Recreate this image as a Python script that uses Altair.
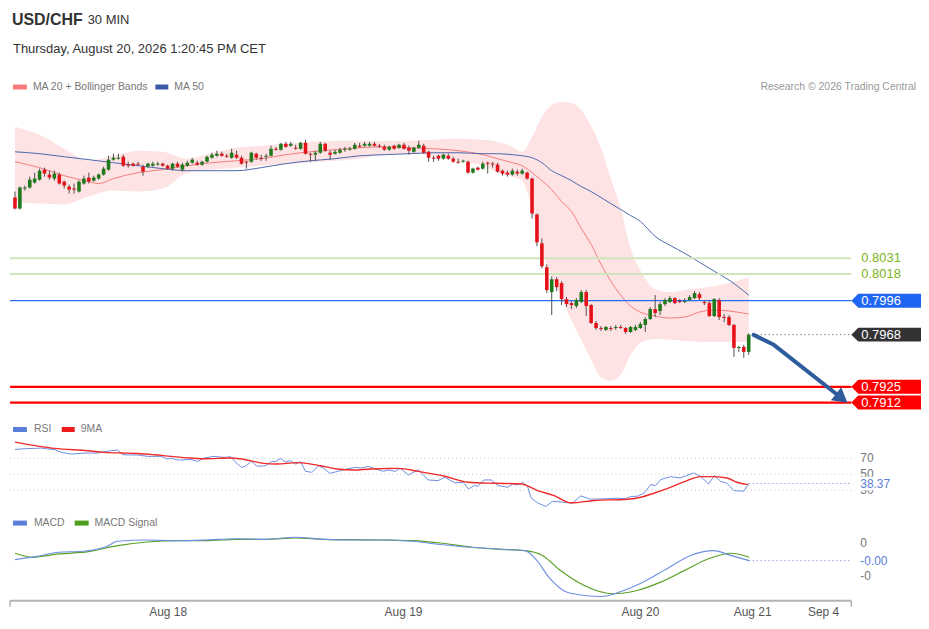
import altair as alt
import pandas as pd

# ---------------- text ----------------
title_symbol = "USD/CHF"
title_period = "30 MIN"
title_date = "Thursday, August 20, 2026 1:20:45 PM CET"
credit_text = "Research \u00a9 2026 Trading Central"
price_legend = ["MA 20 + Bollinger Bands", "MA 50"]
rsi_legend = ["RSI", "9MA"]
macd_legend = ["MACD", "MACD Signal"]

# ---------------- candles (30 min) ----------------
candle_open = [
    0.80811, 0.80720, 0.80885, 0.80893, 0.80934, 0.80958, 0.81041, 0.81000, 0.80967, 0.81000,
    0.80942, 0.80901, 0.80885, 0.80860, 0.80926, 0.80975, 0.80950, 0.80967, 0.81000, 0.81041,
    0.81123, 0.81131, 0.81147, 0.81082, 0.81090, 0.81090, 0.81065, 0.81065, 0.81073, 0.81082,
    0.81090, 0.81073, 0.81049, 0.81090, 0.81041, 0.81073, 0.81098, 0.81098, 0.81082, 0.81106,
    0.81139, 0.81155, 0.81172, 0.81155, 0.81139, 0.81164, 0.81139, 0.81106, 0.81106, 0.81172,
    0.81139, 0.81147, 0.81155, 0.81213, 0.81205, 0.81254, 0.81238, 0.81221, 0.81213, 0.81262,
    0.81172, 0.81164, 0.81180, 0.81254, 0.81180, 0.81172, 0.81180, 0.81205, 0.81205, 0.81213,
    0.81238, 0.81238, 0.81238, 0.81254, 0.81238, 0.81229, 0.81205, 0.81238, 0.81221, 0.81246,
    0.81221, 0.81188, 0.81221, 0.81238, 0.81188, 0.81139, 0.81155, 0.81131, 0.81155, 0.81131,
    0.81106, 0.81106, 0.81106, 0.81016, 0.81057, 0.81049, 0.81098, 0.81090, 0.81082, 0.81032,
    0.81016, 0.81000, 0.81024, 0.81008, 0.81016, 0.80967, 0.80671, 0.80433, 0.80236, 0.80031,
    0.80137, 0.80105, 0.79973, 0.79940, 0.79916, 0.79949, 0.80031, 0.79924, 0.79776, 0.79735,
    0.79719, 0.79735, 0.79735, 0.79743, 0.79735, 0.79702, 0.79719, 0.79735, 0.79760, 0.79809,
    0.79891, 0.79875, 0.79932, 0.79949, 0.79981, 0.79957, 0.79949, 0.79965, 0.79981, 0.80014,
    0.79949, 0.79940, 0.79834, 0.79965, 0.79825, 0.79825, 0.79760, 0.79571, 0.79579, 0.79538,
]
candle_high = [
    0.80860, 0.80901, 0.80909, 0.80983, 0.81016, 0.81049, 0.81057, 0.81032, 0.81032, 0.81016,
    0.80950, 0.80917, 0.80926, 0.80950, 0.80991, 0.81016, 0.80991, 0.81008, 0.81065, 0.81155,
    0.81172, 0.81172, 0.81164, 0.81106, 0.81098, 0.81106, 0.81082, 0.81098, 0.81106, 0.81106,
    0.81098, 0.81082, 0.81098, 0.81106, 0.81098, 0.81114, 0.81139, 0.81114, 0.81114, 0.81155,
    0.81180, 0.81197, 0.81188, 0.81172, 0.81213, 0.81197, 0.81155, 0.81114, 0.81188, 0.81180,
    0.81164, 0.81172, 0.81238, 0.81229, 0.81262, 0.81270, 0.81270, 0.81246, 0.81270, 0.81287,
    0.81180, 0.81197, 0.81270, 0.81262, 0.81197, 0.81205, 0.81221, 0.81229, 0.81229, 0.81262,
    0.81262, 0.81270, 0.81270, 0.81270, 0.81254, 0.81246, 0.81238, 0.81246, 0.81254, 0.81262,
    0.81238, 0.81229, 0.81279, 0.81254, 0.81197, 0.81155, 0.81164, 0.81172, 0.81172, 0.81147,
    0.81131, 0.81123, 0.81114, 0.81057, 0.81065, 0.81106, 0.81106, 0.81106, 0.81098, 0.81041,
    0.81032, 0.81049, 0.81041, 0.81049, 0.81024, 0.80975, 0.80679, 0.80474, 0.80261, 0.80162,
    0.80154, 0.80121, 0.79990, 0.79957, 0.79981, 0.80047, 0.80047, 0.79932, 0.79793, 0.79751,
    0.79751, 0.79751, 0.79760, 0.79760, 0.79743, 0.79751, 0.79760, 0.79784, 0.79825, 0.79908,
    0.80006, 0.79949, 0.79981, 0.79998, 0.79990, 0.79973, 0.79981, 0.80006, 0.80039, 0.80031,
    0.79965, 0.79957, 0.79981, 0.79981, 0.79850, 0.79842, 0.79768, 0.79587, 0.79596, 0.79690,
]
candle_low = [
    0.80712, 0.80712, 0.80868, 0.80885, 0.80926, 0.80950, 0.80983, 0.80958, 0.80950, 0.80917,
    0.80885, 0.80843, 0.80843, 0.80852, 0.80917, 0.80926, 0.80942, 0.80958, 0.80991, 0.81032,
    0.81114, 0.81123, 0.81065, 0.81057, 0.81065, 0.81073, 0.80991, 0.81057, 0.81065, 0.81073,
    0.81065, 0.81041, 0.81032, 0.81057, 0.81024, 0.81065, 0.81090, 0.81073, 0.81073, 0.81098,
    0.81131, 0.81147, 0.81147, 0.81139, 0.81131, 0.81131, 0.81082, 0.81049, 0.81098, 0.81123,
    0.81114, 0.81114, 0.81147, 0.81197, 0.81197, 0.81221, 0.81229, 0.81205, 0.81205, 0.81164,
    0.81106, 0.81114, 0.81172, 0.81188, 0.81123, 0.81164, 0.81172, 0.81188, 0.81197, 0.81205,
    0.81221, 0.81229, 0.81229, 0.81229, 0.81221, 0.81197, 0.81197, 0.81205, 0.81213, 0.81205,
    0.81164, 0.81180, 0.81213, 0.81172, 0.81106, 0.81106, 0.81114, 0.81123, 0.81123, 0.81098,
    0.81090, 0.81098, 0.81008, 0.81008, 0.81032, 0.81041, 0.81008, 0.81057, 0.81016, 0.80991,
    0.80983, 0.80991, 0.80991, 0.81000, 0.80958, 0.80638, 0.80408, 0.80228, 0.80022, 0.79842,
    0.80039, 0.79924, 0.79908, 0.79891, 0.79899, 0.79940, 0.79834, 0.79768, 0.79719, 0.79710,
    0.79710, 0.79710, 0.79719, 0.79727, 0.79686, 0.79694, 0.79710, 0.79727, 0.79702, 0.79801,
    0.79825, 0.79842, 0.79916, 0.79940, 0.79932, 0.79940, 0.79940, 0.79957, 0.79973, 0.79965,
    0.79924, 0.79825, 0.79825, 0.79801, 0.79784, 0.79751, 0.79497, 0.79538, 0.79489, 0.79513,
]
candle_close = [
    0.80720, 0.80893, 0.80893, 0.80958, 0.80967, 0.81032, 0.81008, 0.80975, 0.81008, 0.80926,
    0.80909, 0.80876, 0.80876, 0.80942, 0.80967, 0.80942, 0.80975, 0.81000, 0.81049, 0.81123,
    0.81139, 0.81139, 0.81073, 0.81073, 0.81073, 0.81082, 0.81024, 0.81090, 0.81090, 0.81090,
    0.81073, 0.81049, 0.81090, 0.81065, 0.81082, 0.81098, 0.81123, 0.81082, 0.81106, 0.81147,
    0.81164, 0.81172, 0.81155, 0.81147, 0.81180, 0.81139, 0.81090, 0.81098, 0.81180, 0.81139,
    0.81131, 0.81155, 0.81213, 0.81205, 0.81254, 0.81229, 0.81254, 0.81213, 0.81262, 0.81172,
    0.81164, 0.81180, 0.81254, 0.81197, 0.81164, 0.81188, 0.81205, 0.81213, 0.81213, 0.81246,
    0.81229, 0.81254, 0.81254, 0.81238, 0.81229, 0.81205, 0.81229, 0.81213, 0.81246, 0.81213,
    0.81197, 0.81221, 0.81246, 0.81180, 0.81139, 0.81131, 0.81131, 0.81164, 0.81131, 0.81106,
    0.81098, 0.81114, 0.81016, 0.81049, 0.81041, 0.81090, 0.81090, 0.81082, 0.81024, 0.81008,
    0.81000, 0.81032, 0.81008, 0.81032, 0.80967, 0.80679, 0.80441, 0.80244, 0.80047, 0.80137,
    0.80072, 0.79973, 0.79932, 0.79924, 0.79965, 0.80031, 0.79916, 0.79776, 0.79735, 0.79727,
    0.79743, 0.79727, 0.79743, 0.79735, 0.79702, 0.79743, 0.79743, 0.79768, 0.79809, 0.79891,
    0.79858, 0.79932, 0.79965, 0.79981, 0.79940, 0.79949, 0.79957, 0.79990, 0.80022, 0.79981,
    0.79940, 0.79834, 0.79973, 0.79825, 0.79817, 0.79760, 0.79571, 0.79579, 0.79538, 0.79680,
]

# ---------------- Bollinger bands / moving averages (read at sample candles) ----------------
band_idx = [0, 5, 10, 15, 20, 25, 30, 35, 40, 45, 50, 55, 60, 65, 70, 75, 80, 85, 90, 95,
            98, 101, 103, 105, 107, 109, 111, 113, 115, 117, 119, 121, 123, 125, 127, 130,
            133, 136, 139, 142, 145, 149]
band_upper = [0.81394, 0.81328, 0.81213, 0.81114, 0.81155, 0.81197, 0.81188, 0.81131, 0.81180,
              0.81221, 0.81238, 0.81254, 0.81270, 0.81279, 0.81279, 0.81279, 0.81279, 0.81287,
              0.81295, 0.81287, 0.81270, 0.81229, 0.81188, 0.81311, 0.81476, 0.81574, 0.81599,
              0.81591, 0.81533, 0.81402, 0.81221, 0.80967, 0.80720, 0.80392, 0.80211, 0.80055,
              0.80031, 0.80047, 0.80064, 0.80080, 0.80105, 0.80154]
band_lower = [0.80770, 0.80761, 0.80753, 0.80819, 0.80868, 0.80860, 0.80885, 0.81016, 0.81041,
              0.81057, 0.81073, 0.81090, 0.81098, 0.81114, 0.81131, 0.81164, 0.81172, 0.81155,
              0.81114, 0.81073, 0.81016, 0.80983, 0.80950, 0.80712, 0.80376, 0.80170, 0.79981,
              0.79801, 0.79637, 0.79472, 0.79325, 0.79300, 0.79349, 0.79513, 0.79612, 0.79645,
              0.79637, 0.79628, 0.79620, 0.79620, 0.79620, 0.79620]
ma50_val = [0.81188, 0.81172, 0.81147, 0.81123, 0.81098, 0.81073, 0.81049, 0.81032, 0.81032,
            0.81032, 0.81057, 0.81090, 0.81114, 0.81131, 0.81155, 0.81164, 0.81172, 0.81180,
            0.81180, 0.81172, 0.81172, 0.81164, 0.81155, 0.81139, 0.81098, 0.81032, 0.80991,
            0.80950, 0.80901, 0.80860, 0.80811, 0.80761, 0.80712, 0.80663, 0.80614, 0.80490,
            0.80417, 0.80351, 0.80277, 0.80203, 0.80130, 0.80006]
ma20_idx = [0, 5, 10, 15, 17, 20, 25, 30, 35, 40, 45, 50, 55, 60, 65, 70, 75, 80, 85, 90, 95,
            98, 101, 103, 105, 107, 109, 111, 113, 115, 117, 119, 121, 123, 125, 127, 130,
            133, 136, 139, 142, 145, 149]
ma20_val = [0.81106, 0.81057, 0.80991, 0.80942, 0.80926, 0.80967, 0.81016, 0.81041, 0.81073,
            0.81098, 0.81114, 0.81131, 0.81164, 0.81188, 0.81205, 0.81221, 0.81229, 0.81221,
            0.81213, 0.81197, 0.81164, 0.81131, 0.81098, 0.81073, 0.81016, 0.80950, 0.80876,
            0.80778, 0.80696, 0.80556, 0.80425, 0.80261, 0.80121, 0.80006, 0.79916, 0.79866,
            0.79834, 0.79817, 0.79825, 0.79866, 0.79883, 0.79875, 0.79850]

# ---------------- key levels ----------------
levels = [0.8031, 0.8018, 0.7996, 0.7968, 0.7925, 0.7912]
level_kind = ["target", "target", "ma", "last", "support", "support"]
level_text = ["0.8031", "0.8018", "0.7996", "0.7968", "0.7925", "0.7912"]

# forecast arrow path (candle index, price)
forecast_idx = [150.0, 154.1, 167.9]
forecast_price = [0.79678, 0.79596, 0.79156]

# ---------------- RSI ----------------
rsi_idx = [0, 2, 5.4, 8.1, 9.4, 11.5, 14.2, 16.8, 19.5, 20.9, 21.9, 24.9, 27.0, 29.7, 31.0,
           31.7, 33.0, 35.7, 37.1, 38.4, 40.4, 42.5, 43.8, 44.8, 46.0, 46.8, 48.0, 49.2, 50.9,
           52.2, 52.9, 53.9, 54.9, 55.9, 57.0, 58.0, 59.0, 60.3, 61.7, 62.7, 64.0, 66.1, 67.4,
           69.1, 70.4, 71.8, 72.8, 74.8, 75.8, 77.2, 78.2, 79.9, 81.9, 83.9, 85.9, 87.3, 89.3,
           91.0, 92.1, 93.3, 94.0, 95.2, 96.7, 98.1, 100.1, 101.1, 102.1, 103.1, 104.1, 104.8,
           106.1, 107.8, 109.2, 111.2, 113.2, 114.9, 116.9, 119.6, 122.3, 124.0, 125.0, 126.4,
           127.7, 129.1, 130.1, 131.1, 133.1, 135.1, 137.8, 139.2, 140.9, 142.0, 143.3, 144.6,
           146.0, 148.0, 149.0]
rsi_val = [81.2, 82.1, 82.9, 80.8, 77.5, 75.4, 76.7, 76.7, 79.6, 80.4, 74.6, 74.2, 72.5, 72.5,
           69.2, 70.4, 67.9, 68.7, 66.2, 70.4, 72.5, 71.2, 72.1, 65.0, 58.7, 60.0, 66.2, 60.0,
           60.8, 66.2, 65.8, 70.0, 65.4, 67.1, 62.9, 65.8, 53.7, 52.5, 60.8, 57.5, 51.2, 54.6,
           56.7, 58.7, 57.9, 60.0, 57.5, 53.7, 55.4, 53.7, 57.5, 49.2, 55.8, 42.9, 42.1, 46.2,
           39.2, 40.0, 31.7, 35.8, 35.0, 42.9, 42.9, 35.8, 33.7, 37.9, 36.7, 40.0, 34.6, 20.4,
           14.2, 9.6, 16.2, 15.0, 13.7, 22.9, 18.7, 19.2, 20.0, 19.2, 22.1, 22.5, 26.2, 37.1,
           35.8, 43.3, 47.1, 45.4, 51.7, 47.5, 37.9, 48.3, 41.2, 38.7, 29.6, 28.7, 38.37]
rsi_ma_idx = [0, 4.7, 8.1, 14.8, 18.2, 21.6, 24.9, 28.3, 31.7, 35.7, 38.4, 43.8, 47.8, 50.5,
              53.2, 57.3, 62.0, 65.4, 68.7, 72.1, 74.8, 77.8, 81.9, 87.3, 92.0, 97.4, 102.8,
              106.1, 109.5, 112.9, 117.6, 124.3, 127.1, 129.7, 133.1, 136.5, 139.2, 141.2,
              144.6, 146.6, 148.8]
rsi_ma_val = [90.4, 85.4, 82.5, 79.6, 77.5, 76.7, 76.2, 74.6, 72.5, 70.4, 69.6, 70.4, 67.1,
              63.7, 62.9, 64.6, 60.8, 56.7, 55.4, 56.7, 57.1, 57.5, 53.7, 47.5, 40.0, 38.7,
              37.9, 29.6, 23.3, 14.2, 17.1, 18.7, 21.2, 26.2, 33.7, 42.1, 47.1, 47.1, 45.4,
              40.0, 37.0]
rsi_ticks = [70, 50, 30]
rsi_tick_text = ["70", "50", "30"]
rsi_last = 38.37
rsi_last_text = "38.37"

# ---------------- MACD ----------------
macd_idx = [0, 4.2, 8.9, 13.7, 18.5, 20.9, 26.9, 32.9, 38.9, 44.9, 50.9, 56.9, 62.8, 68.8,
            74.8, 80.8, 86.8, 92.8, 98.8, 103.6, 106.0, 108.4, 112.0, 115.6, 119.1, 122.7,
            127.5, 132.3, 137.1, 141.9, 145.5, 149.1]
macd_val = [-0.000004, 0.000051, 0.000131, 0.000149, 0.000233, 0.000331, 0.000355, 0.000342,
            0.000355, 0.000378, 0.000367, 0.000404, 0.000367, 0.000355, 0.000355, 0.000331,
            0.000269, 0.000222, 0.000185, 0.000160, -0.000022, -0.000324, -0.000596,
            -0.000658, -0.000676, -0.000596, -0.000415, -0.000173, 0.000069, 0.000160,
            0.000069, -0.000022]
signal_idx = [0, 3.6, 8.9, 14.9, 20.9, 26.9, 32.9, 38.9, 44.9, 50.9, 56.9, 62.8, 68.8, 74.8,
              80.8, 86.8, 92.8, 98.8, 103.6, 107.2, 110.8, 115.6, 121.5, 126.3, 131.1, 135.9,
              140.7, 145.5, 149.1]
signal_val = [0.000113, 0.000040, 0.000100, 0.000142, 0.000251, 0.000318, 0.000342, 0.000342,
              0.000367, 0.000367, 0.000391, 0.000367, 0.000360, 0.000355, 0.000342, 0.000295,
              0.000222, 0.000185, 0.000160, 0.000069, -0.000204, -0.000476, -0.000627,
              -0.000567, -0.000415, -0.000204, 0.000009, 0.000113, 0.000040]
macd_ticks = [0.0003, -0.0003]
macd_tick_text = ["0", "-0"]
macd_last = -0.000022
macd_last_text = "-0.00"

# ---------------- time axis ----------------
x_tick_idx = [31.1, 78.9, 127.0, 149.8, 164.2]
x_tick_text = ["Aug 18", "Aug 19", "Aug 20", "Aug 21", "Sep 4"]

# ======================================================================
FONT = "Liberation Sans"
W, H = 914, 614
XL, XR = 2, 847          # plot area edges (px)
LBL_X = 856              # right-hand label column (px)

XS = alt.Scale(domain=[-1.4153, 183.381], nice=False, zero=False, padding=0)
PS = alt.Scale(domain=[0.790, 0.816], range=[409.56, 92.88], nice=False, zero=False, padding=0)
RS = alt.Scale(domain=[0, 100], range=[507, 427], nice=False, zero=False, padding=0)
MS = alt.Scale(domain=[-0.0008, 0.0006], range=[596.5, 519.5], nice=False, zero=False, padding=0)


def X(f):
    return alt.X(f"{f}:Q", scale=XS, axis=None)


def Y(f, s):
    return alt.Y(f"{f}:Q", scale=s, axis=None)


def txt(s, x, y, size=10.5, color="#777777", align="left", weight="normal"):
    return alt.Chart(pd.DataFrame({"t": [s]})).mark_text(
        font=FONT, fontSize=size, color=color, align=align, baseline="middle",
        fontWeight=weight
    ).encode(x=alt.value(x), y=alt.value(y), text="t:N")


def swatch(x0, x1, y, color):
    return alt.Chart(pd.DataFrame({"t": [0]})).mark_rect(color=color).encode(
        x=alt.value(x0), x2=alt.value(x1), y=alt.value(y - 2.5), y2=alt.value(y + 2.5)
    )


BOX = "M-1,0L-0.8,-0.2L1,-0.2L1,0.2L-0.8,0.2Z"
WBOX = "M-1,-0.4L1,-0.4L1,0.4L-1,0.4Z"

# ---------------- price panel ----------------
candles = pd.DataFrame({"idx": list(range(len(candle_open))), "open": candle_open,
                        "high": candle_high, "low": candle_low, "close": candle_close})
band = pd.DataFrame({"idx": band_idx, "up": band_upper, "lo": band_lower, "ma50": ma50_val})
ma20 = pd.DataFrame({"idx": ma20_idx, "v": ma20_val})
lv = pd.DataFrame({"level": levels, "kind": level_kind, "label": level_text})
fc = pd.DataFrame({"idx": forecast_idx, "p": forecast_price})

band_area = alt.Chart(band).mark_area(color="#fde3e3", interpolate="monotone").encode(
    x=X("idx"), y=Y("up", PS), y2="lo")
ma20_line = alt.Chart(ma20).mark_line(color="#f47c7c", strokeWidth=1, interpolate="monotone").encode(
    x=X("idx"), y=Y("v", PS))
ma50_line = alt.Chart(band).mark_line(color="#4a68ad", strokeWidth=1, interpolate="monotone").encode(
    x=X("idx"), y=Y("ma50", PS))


def level_rule(kind, color, width, dash=None, x0=XL):
    kw = dict(color=color, strokeWidth=width)
    if dash:
        kw["strokeDash"] = dash
    return alt.Chart(lv[lv.kind == kind]).mark_rule(**kw).encode(
        y=Y("level", PS), x=alt.value(x0), x2=alt.value(XR))


def level_box(kind, color):
    return alt.Chart(lv[lv.kind == kind]).mark_point(
        shape=BOX, filled=True, size=4900, opacity=1, color=color, strokeWidth=0
    ).encode(y=Y("level", PS), x=alt.value(882))


def level_text_mark(kind, color):
    return alt.Chart(lv[lv.kind == kind]).mark_text(
        font=FONT, fontSize=13, color=color, align="left", baseline="middle"
    ).encode(y=Y("level", PS), x=alt.value(LBL_X + 1), text="label:N")


rules = [
    level_rule("target", "#cfe6bd", 2),
    level_rule("ma", "#2a6ef0", 1.3),
    level_rule("support", "#ff0000", 2.2),
]

wicks = alt.Chart(candles).mark_rule(color="#505050", strokeWidth=1).encode(
    x=X("idx"), y=Y("low", PS), y2="high")
bodies = alt.Chart(candles).mark_bar(size=3.6).encode(
    x=X("idx"), y=Y("open", PS), y2="close",
    color=alt.condition("datum.close >= datum.open", alt.value("#1f7a1c"), alt.value("#e6121a")))

last_rule = level_rule("last", "#444444", 1, dash=[1, 3], x0=752)

fc_line = alt.Chart(fc).mark_line(color="#2f5c9c", strokeWidth=4, strokeCap="round",
                                  strokeJoin="round").encode(x=X("idx"), y=Y("p", PS))
fc_head = alt.Chart(fc.tail(1)).mark_point(shape="triangle-right", angle=38, size=280,
                                           filled=True, opacity=1, color="#2f5c9c").encode(
    x=X("idx"), y=Y("p", PS))

price_panel = alt.layer(
    band_area, ma20_line, ma50_line, *rules, wicks, bodies, last_rule, fc_line, fc_head,
    level_box("ma", "#1f66f5"), level_box("last", "#333333"), level_box("support", "#ff0000"),
    level_text_mark("target", "#7cb51a"), level_text_mark("ma", "white"),
    level_text_mark("last", "white"), level_text_mark("support", "white"),
)

# ---------------- RSI panel ----------------
rsi_df = pd.DataFrame({"idx": rsi_idx, "v": rsi_val})
rsi_ma_df = pd.DataFrame({"idx": rsi_ma_idx, "v": rsi_ma_val})
rsi_t = pd.DataFrame({"v": rsi_ticks, "t": rsi_tick_text})
rsi_l = pd.DataFrame({"v": [rsi_last], "t": [rsi_last_text]})

rsi_panel = alt.layer(
    alt.Chart(rsi_t).mark_rule(color="#c4c4c4", strokeDash=[1, 3], strokeWidth=1).encode(
        y=Y("v", RS), x=alt.value(XL), x2=alt.value(XR)),
    alt.Chart(rsi_df).mark_line(color="#6d8ee0", strokeWidth=1).encode(x=X("idx"), y=Y("v", RS)),
    alt.Chart(rsi_ma_df).mark_line(color="#f02a2a", strokeWidth=1.4, interpolate="monotone").encode(
        x=X("idx"), y=Y("v", RS)),
    alt.Chart(rsi_t).mark_text(font=FONT, fontSize=12, color="#777777", align="left",
                               baseline="middle").encode(y=Y("v", RS), x=alt.value(LBL_X), text="t:N"),
    alt.Chart(rsi_l).mark_rule(color="#5b7fd8", strokeDash=[1, 3], strokeWidth=1).encode(
        y=Y("v", RS), x=alt.value(744), x2=alt.value(XR)),
    alt.Chart(rsi_l).mark_point(shape=WBOX, filled=True, size=1156, opacity=1, color="white",
                                strokeWidth=0).encode(y=Y("v", RS), x=alt.value(872)),
    alt.Chart(rsi_l).mark_text(font=FONT, fontSize=12, color="#5b7fd8", align="left",
                               baseline="middle").encode(y=Y("v", RS), x=alt.value(LBL_X), text="t:N"),
)

# ---------------- MACD panel ----------------
macd_df = pd.DataFrame({"idx": macd_idx, "v": macd_val})
sig_df = pd.DataFrame({"idx": signal_idx, "v": signal_val})
macd_t = pd.DataFrame({"v": macd_ticks, "t": macd_tick_text})
macd_l = pd.DataFrame({"v": [macd_last], "t": [macd_last_text]})

macd_panel = alt.layer(
    alt.Chart(sig_df).mark_line(color="#58a027", strokeWidth=1.2, interpolate="monotone").encode(
        x=X("idx"), y=Y("v", MS)),
    alt.Chart(macd_df).mark_line(color="#6d8ee0", strokeWidth=1.1, interpolate="monotone").encode(
        x=X("idx"), y=Y("v", MS)),
    alt.Chart(macd_t).mark_text(font=FONT, fontSize=12, color="#777777", align="left",
                                baseline="middle").encode(y=Y("v", MS), x=alt.value(LBL_X), text="t:N"),
    alt.Chart(macd_l).mark_rule(color="#5b7fd8", strokeDash=[1, 3], strokeWidth=1).encode(
        y=Y("v", MS), x=alt.value(744), x2=alt.value(XR)),
    alt.Chart(macd_l).mark_text(font=FONT, fontSize=12, color="#5b7fd8", align="left",
                                baseline="middle").encode(y=Y("v", MS), x=alt.value(LBL_X), text="t:N"),
)

# ---------------- time axis ----------------
xt = pd.DataFrame({"idx": x_tick_idx, "t": x_tick_text})
one = pd.DataFrame({"a": [0]})
axis_parts = [
    alt.Chart(one).mark_rule(color="#b3b3b3", strokeWidth=2).encode(
        x=alt.value(XL), x2=alt.value(XR), y=alt.value(594)),
    alt.Chart(one).mark_rule(color="#b3b3b3", strokeWidth=1.5).encode(
        x=alt.value(XL), y=alt.value(594), y2=alt.value(600)),
    alt.Chart(one).mark_rule(color="#b3b3b3", strokeWidth=1.5).encode(
        x=alt.value(XR), y=alt.value(594), y2=alt.value(600)),
    alt.Chart(xt).mark_text(font=FONT, fontSize=12, color="#555555", align="center",
                            baseline="middle").encode(x=X("idx"), y=alt.value(605), text="t:N"),
]

# ---------------- header & legends ----------------
decor = [
    txt(title_symbol, 4, 11, size=16, color="#333333", weight="bold"),
    txt(title_period, 80, 11, size=13, color="#333333"),
    txt(title_date, 5, 40, size=13, color="#333333"),
    swatch(5, 19, 78, "#f87a7a"), txt(price_legend[0], 25, 78),
    swatch(148, 161, 78, "#3b5ba5"), txt(price_legend[1], 167, 78),
    txt(credit_text, 912, 78, color="#999999", align="right"),
    swatch(5, 19, 422, "#5b7fd8"), txt(rsi_legend[0], 26, 422),
    swatch(54, 67, 422, "#ee1c1c"), txt(rsi_legend[1], 73, 422),
    swatch(5, 19, 516, "#5b7fd8"), txt(macd_legend[0], 26, 516),
    swatch(67, 81, 516, "#4d9e1a"), txt(macd_legend[1], 87, 516),
]

chart = alt.layer(
    price_panel, rsi_panel, macd_panel, *axis_parts, *decor
).resolve_scale(y="independent").properties(
    width=W, height=H, padding=0
).configure_view(strokeWidth=0)

chart.save("out.html", embed_options={"renderer": "svg", "actions": False})
